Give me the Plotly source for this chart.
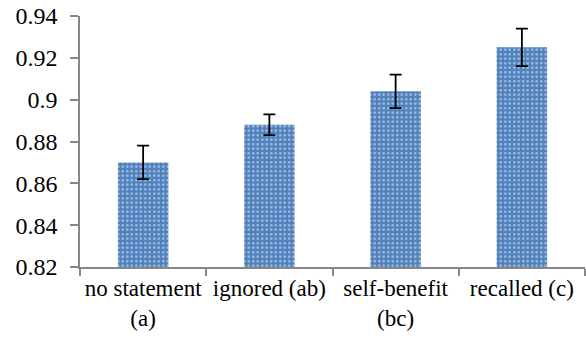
import plotly.graph_objects as go

categories = ["no statement<br>(a)", "ignored (ab)", "self-benefit<br>(bc)", "recalled (c)"]
values = [0.870, 0.888, 0.904, 0.925]
errors = [0.008, 0.005, 0.008, 0.009]
y_ticks = [0.82, 0.84, 0.86, 0.88, 0.90, 0.92, 0.94]
y_tick_labels = ["0.82", "0.84", "0.86", "0.88", "0.9", "0.92", "0.94"]
y_min = 0.82

fig = go.Figure(go.Bar(
    x=categories, y=[v - y_min for v in values], base=y_min,
    marker=dict(color="#4F81BD", line=dict(width=0),
                pattern=dict(shape=".", fgcolor="white", bgcolor="#4F81BD",
                             size=4.5, solidity=0.25, fillmode="overlay")),
    error_y=dict(type="data", array=errors, visible=True, color="black",
                 thickness=1.8, width=6),
))

serif = "Liberation Serif"
fig.update_layout(
    width=586, height=337,
    margin=dict(l=80, r=1, t=16, b=70, autoexpand=False),
    paper_bgcolor="white", plot_bgcolor="white",
    bargap=0.6, showlegend=False,
    font=dict(family=serif, size=23, color="black"),
)
fig.update_xaxes(type="category", showline=True, linecolor="#868686", linewidth=1.5,
                 ticks="outside", tickson="boundaries", ticklen=7, tickcolor="#868686",
                 tickwidth=1.5, showgrid=False, automargin=False, ticklabeloverflow="allow",
                 tickangle=0, tickfont=dict(family=serif, size=23, color="black"))
fig.update_yaxes(range=[0.82, 0.94], tickvals=y_ticks, ticktext=y_tick_labels,
                 showline=True, linecolor="#868686", linewidth=1.5, ticks="outside",
                 ticklen=8, tickcolor="#868686", tickwidth=1.5, showgrid=False,
                 automargin=False, ticklabeloverflow="allow", ticklabelstandoff=8,
                 tickfont=dict(family=serif, size=24, color="black"),
                 zeroline=False)
fig.write_html("out.html", config={"displayModeBar": False},
               post_script="document.body.style.margin='0px';")
